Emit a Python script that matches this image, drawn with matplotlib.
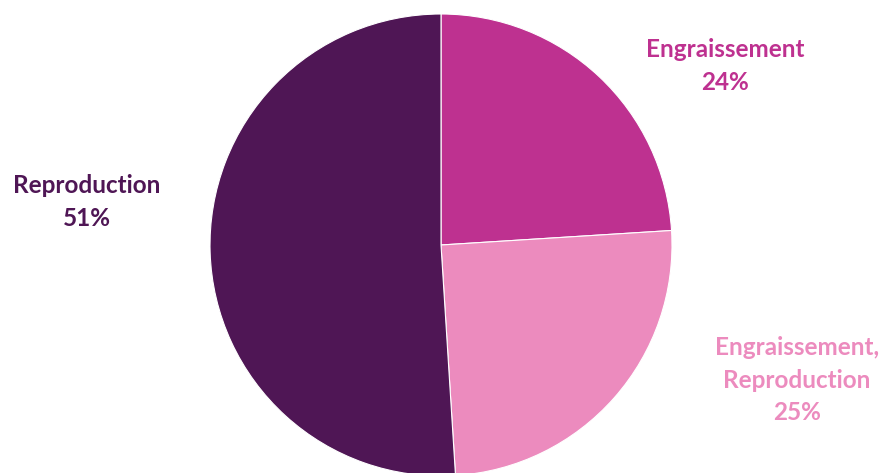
import matplotlib
matplotlib.use("Agg")
import matplotlib.pyplot as plt

labels = ["Engraissement", "Engraissement,\nReproduction", "Reproduction"]
shares = [24, 25, 51]
colors = ["#BE3190", "#EC8BBE", "#4F1655"]
# label centres in pixels from the top-left corner
label_pos = [(725, 66), (797, 380), (87, 202)]

W, H = 884, 473


def main():
    fig = plt.figure(figsize=(W / 100, H / 100), dpi=100)
    ax = fig.add_axes([0, 0, 1, 1])

    ax.pie(shares, colors=colors, startangle=90, counterclock=False,
           center=(441, H - 245), radius=231,
           wedgeprops=dict(edgecolor="white", linewidth=0.8))
    # pie() resets limits, put them back
    ax.set_xlim(0, W)
    ax.set_ylim(0, H)
    ax.set_aspect("equal")
    ax.axis("off")

    for lab, val, col, (x, y) in zip(labels, shares, colors, label_pos):
        ax.text(x, H - y, f"{lab}\n{val}%", color=col, ha="center", va="center",
                fontsize=17.5, fontweight="bold", family="Lato",
                linespacing=1.5)

    fig.savefig("out.png", dpi=100)
    plt.close(fig)


if __name__ == "__main__":
    main()
